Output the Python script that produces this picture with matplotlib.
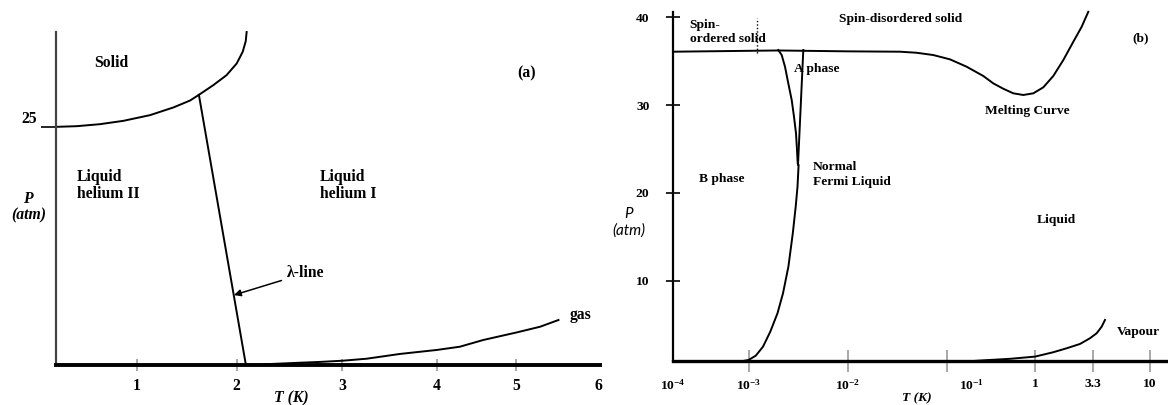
import matplotlib
matplotlib.use('Agg')
import matplotlib.pyplot as plt

plt.rcParams['font.family'] = ['Liberation Serif', 'DejaVu Serif']
plt.rcParams['font.weight'] = 'bold'
plt.rcParams['mathtext.fontset'] = 'custom'
plt.rcParams['mathtext.rm'] = 'Liberation Serif:bold'
plt.rcParams['mathtext.bf'] = 'Liberation Serif:bold'
plt.rcParams['mathtext.it'] = 'Liberation Serif:bold:italic'

# ---- (a) helium-4, T in K (as drawn), P in atm ----
solid_T = [0.12, 0.345, 0.597, 0.85, 1.14, 1.394, 1.575, 1.682, 1.826, 1.97, 2.08, 2.145, 2.178, 2.188]
solid_P = [25.03, 25.1, 25.31, 25.66, 26.26, 27.07, 27.8, 28.47, 29.41, 30.46, 31.69, 32.91, 34.03, 35.0]
lambda_T = [1.67, 2.18]
lambda_P = [28.4, 0.0]
gas_T = [2.18, 2.44, 2.77, 2.98, 3.23, 3.49, 3.85, 4.25, 4.50, 4.755, 5.12, 5.37, 5.57]
gas_P = [0.0, 0.1, 0.24, 0.32, 0.45, 0.66, 1.16, 1.58, 1.92, 2.63, 3.43, 4.02, 4.73]
a_xticks = [1.0, 2.08, 3.22, 4.25, 5.11, 6.0]
a_xlabels = ['1', '2', '3', '4', '5', '6']
a_yticks = [25]

# ---- (b) helium-3, x is position along the drawn T axis ----
melt_x = [0.0, 1.05, 1.75, 2.27, 2.437, 2.603, 2.77, 2.937, 3.103, 3.203, 3.303, 3.403,
          3.503, 3.603, 3.703, 3.803, 3.903, 4.003, 4.087, 4.153]
melt_P = [36.06, 36.2, 36.1, 36.06, 35.94, 35.68, 35.19, 34.35, 33.3, 32.46, 31.85, 31.33,
          31.14, 31.33, 32.01, 33.3, 35.11, 37.19, 38.9, 40.6]
ab_x = [1.053, 1.087, 1.12, 1.153, 1.187, 1.21, 1.23, 1.24, 1.247, 1.256, 1.245, 1.227,
        1.198, 1.154, 1.10, 1.045, 0.973, 0.90, 0.828, 0.756, 0.70]
ab_P = [36.25, 35.68, 34.35, 32.46, 30.57, 28.67, 26.78, 24.89, 23.37, 23.18, 20.72, 18.45,
        15.42, 11.63, 8.6, 6.33, 4.24, 2.53, 1.51, 1.02, 0.9]
an_x = [1.303, 1.25]
an_P = [36.25, 23.2]
dot_x = [0.84, 0.84]
dot_P = [35.9, 39.9]
vap_x = [3.00, 3.137, 3.37, 3.62, 3.803, 3.937, 4.07, 4.17, 4.237, 4.287, 4.32]
vap_P = [0.9, 1.0, 1.15, 1.40, 1.90, 2.35, 2.84, 3.49, 4.06, 4.81, 5.57]
b_xticks = [0.0, 0.76, 1.75, 2.74, 2.99, 3.62, 4.20, 4.77]
b_xlabels = ['$10^{-4}$', '$10^{-3}$', '$10^{-2}$', '', '$10^{-1}$', '1', '3.3', '10']
b_yticks = [10, 20, 30, 40]

fig = plt.figure(figsize=(11.68, 4.05), dpi=100)
ax1 = fig.add_axes([0.0479, 0.0988, 0.4658, 0.8222])
ax2 = fig.add_axes([0.5762, 0.1086, 0.4238, 0.8617])

fa = 11.3
fb = 9.7
lw = 1.4

# panel (a)
ax1.plot(solid_T, solid_P, color='black', lw=lw, clip_on=False)
ax1.plot(lambda_T, lambda_P, color='black', lw=lw, clip_on=False)
ax1.plot(gas_T, gas_P, color='black', lw=lw, clip_on=False)
ax1.set_xlim(0.12, 6.02)
ax1.set_ylim(0, 35)
for s in ['top', 'right']:
    ax1.spines[s].set_visible(False)
ax1.spines['left'].set_color('#444444')
ax1.spines['left'].set_linewidth(1.6)
ax1.spines['bottom'].set_linewidth(2.8)
ax1.set_xticks(a_xticks, a_xlabels, fontsize=fa)
ax1.set_yticks(a_yticks, [str(v) for v in a_yticks], fontsize=fa)
ax1.tick_params(axis='x', direction='inout', length=9, width=1.2, color='#999999', pad=5)
ax1.tick_params(axis='y', direction='out', length=11, width=1.2, color='black', pad=2.3)
for i, t in enumerate(ax1.xaxis.get_major_ticks()):
    if i in (3, 4):
        t.tick1line.set_color('black')
    if i == 5:
        t.tick1line.set_visible(False)
for lab in ax1.get_yticklabels():
    lab.set_verticalalignment('bottom')

ax1.text(0.53, 31.7, 'Solid', fontsize=fa, va='center')
ax1.text(5.22, 30.7, '(a)', fontsize=fa, ha='center', va='center')
ax1.text(0.35, 18.85, 'Liquid\nhelium II', fontsize=fa, va='center', linespacing=1.05)
ax1.text(2.98, 18.85, 'Liquid\nhelium I', fontsize=fa, va='center', linespacing=1.05)
ax1.annotate('λ-line', xy=(2.05, 7.35), xytext=(2.625, 9.66), fontsize=fa, va='center',
             arrowprops=dict(arrowstyle='-|>', color='black', lw=1.1, shrinkA=2, shrinkB=0,
                             mutation_scale=10))
ax1.text(5.69, 5.25, 'gas', fontsize=fa, va='center')
ax1.text(-0.05, 0.474, '$\\mathit{P}$\n(atm)', transform=ax1.transAxes, fontsize=fa,
         ha='center', va='center', style='italic', linespacing=1.0)
ax1.text(0.432, -0.099, 'T (K)', transform=ax1.transAxes, fontsize=fa, ha='center',
         va='center', style='italic')

# panel (b)
ax2.plot(melt_x, melt_P, color='black', lw=lw, clip_on=False)
ax2.plot(ab_x, ab_P, color='black', lw=lw, clip_on=False)
ax2.plot(an_x, an_P, color='black', lw=lw, clip_on=False)
ax2.plot(dot_x, dot_P, color='black', lw=1.0, ls=(0, (1, 1.5)), clip_on=False)
ax2.plot(vap_x, vap_P, color='black', lw=lw, clip_on=False)
ax2.set_xlim(0, 4.95)
ax2.set_ylim(0.9, 40.57)
for s in ['top', 'right']:
    ax2.spines[s].set_visible(False)
ax2.spines['left'].set_linewidth(1.6)
ax2.spines['bottom'].set_linewidth(2.4)
ax2.set_xticks(b_xticks, b_xlabels, fontsize=fb)
ax2.set_yticks(b_yticks, [str(v) for v in b_yticks], fontsize=fb)
ax2.tick_params(axis='x', direction='inout', length=16, width=1.2, color='#999999', pad=4)
ax2.tick_params(axis='y', direction='inout', length=10, width=1.2, color='black', pad=12)
for i, t in enumerate(ax2.xaxis.get_major_ticks()):
    if i in (0, 4):
        t.tick1line.set_visible(False)
    if i == 5:
        t.tick1line.set_color('black')
for i, t in enumerate(ax2.yaxis.get_major_ticks()):
    if i in (0, 1):
        t.tick1line.set_color('#999999')

ax2.text(0.165, 38.3, 'Spin-\nordered solid', fontsize=fb, va='center', linespacing=1.25)
ax2.text(1.66, 39.8, 'Spin-disordered solid', fontsize=fb, va='center')
ax2.text(4.675, 37.6, '(b)', fontsize=fb, ha='center', va='center')
ax2.text(1.21, 34.1, 'A phase', fontsize=fb, va='center')
ax2.text(3.12, 29.3, 'Melting Curve', fontsize=fb, va='center')
ax2.text(1.40, 22.1, 'Normal\nFermi Liquid', fontsize=fb, va='center', linespacing=1.25)
ax2.text(0.255, 21.6, 'B phase', fontsize=fb, va='center')
ax2.text(3.636, 16.9, 'Liquid', fontsize=fb, va='center')
ax2.text(4.44, 4.2, 'Vapour', fontsize=fb, va='center')
ax2.text(-0.089, 0.398, 'P\n(atm)', transform=ax2.transAxes, fontsize=11, ha='center',
         va='center', family=['Lato', 'DejaVu Sans'], style='italic', weight='normal',
         linespacing=1.2)
ax2.text(0.493, -0.106, 'T (K)', transform=ax2.transAxes, fontsize=fb, ha='center',
         va='center', style='italic')

fig.savefig('out.png', dpi=100)
